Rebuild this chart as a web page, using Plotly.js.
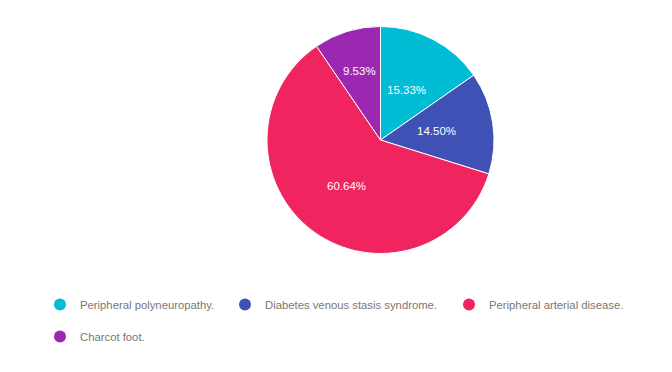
<!DOCTYPE html>
<html>
<head>
<meta charset="utf-8">
<script src="https://cdn.plot.ly/plotly-3.0.1.min.js"></script>
<style>html,body{margin:0;padding:0;background:#fff;}#chart{width:672px;height:372px;}</style>
</head>
<body>
<div id="chart"></div>
<script>
const categories = ["Peripheral polyneuropathy.", "Diabetes venous stasis syndrome.", "Peripheral arterial disease.", "Charcot foot."];
const values = [15.33, 14.50, 60.64, 9.53];
const colors = ["#00BCD4", "#3F51B5", "#F0245F", "#9C27B0"];

const W = 672, H = 372;
const cx = 380.5, cy = 140, r = 113.5;
const FONT = "Liberation Sans, Arial, sans-serif";
const labelSize = 11.5;

const pie = {
  type: "pie",
  labels: categories,
  values: values,
  sort: false,
  direction: "clockwise",
  rotation: 0,
  marker: {colors: colors, line: {color: "#ffffff", width: 1}},
  textinfo: "none",
  hoverinfo: "label+percent",
  showlegend: false,
  domain: {x: [(cx - r) / W, (cx + r) / W], y: [(H - cy - r) / H, (H - cy + r) / H]}
};

// slice labels placed at mid-angle of each slice, derived from the values
const ctx = document.createElement("canvas").getContext("2d");
ctx.font = labelSize + "px 'Liberation Sans'";
const total = values.reduce((a, b) => a + b, 0);
let cum = 0;
const annotations = values.map((v, i) => {
  const frac = v / total;
  const mid = (cum + frac / 2) * 2 * Math.PI;
  const half = frac * Math.PI;
  cum += frac;
  const txt = (frac * 100).toFixed(2) + "%";
  const tw = ctx.measureText(txt).width;
  let rho = Math.max(0.5 * r, (tw / 2 + 5) / Math.sin(Math.min(half, Math.PI / 2)));
  rho = Math.min(rho, 0.8 * r);
  return {
    xref: "paper", yref: "paper",
    x: (cx + rho * Math.sin(mid)) / W,
    y: (H - (cy - rho * Math.cos(mid))) / H,
    xanchor: "center", yanchor: "middle",
    text: txt, showarrow: false,
    font: {family: FONT, size: labelSize, color: "#ffffff"}
  };
});

const legendIds = ["legend", "legend2", "legend3", "legend4"];
const legendTraces = categories.map((c, i) => ({
  type: "scatter",
  mode: "markers",
  x: [null], y: [null],
  name: c,
  legend: legendIds[i],
  marker: {color: colors[i], size: 12, symbol: "circle"},
  showlegend: true,
  hoverinfo: "skip"
}));

function legendAt(px, py) {
  return {
    orientation: "h",
    x: px / W, xanchor: "left",
    y: (H - py) / H, yanchor: "top",
    font: {family: FONT, size: 11.3, color: "#777777"},
    bgcolor: "rgba(0,0,0,0)",
    itemclick: false
  };
}

const layout = {
  width: W, height: H,
  margin: {l: 0, r: 0, t: 0, b: 0},
  paper_bgcolor: "#ffffff",
  plot_bgcolor: "#ffffff",
  xaxis: {visible: false},
  yaxis: {visible: false},
  showlegend: true,
  legend: legendAt(40, 290),
  legend2: legendAt(225, 290),
  legend3: legendAt(449, 290),
  legend4: legendAt(40, 322),
  annotations: annotations
};

Plotly.newPlot("chart", [pie].concat(legendTraces), layout, {displayModeBar: false, staticPlot: true});
</script>
</body>
</html>
